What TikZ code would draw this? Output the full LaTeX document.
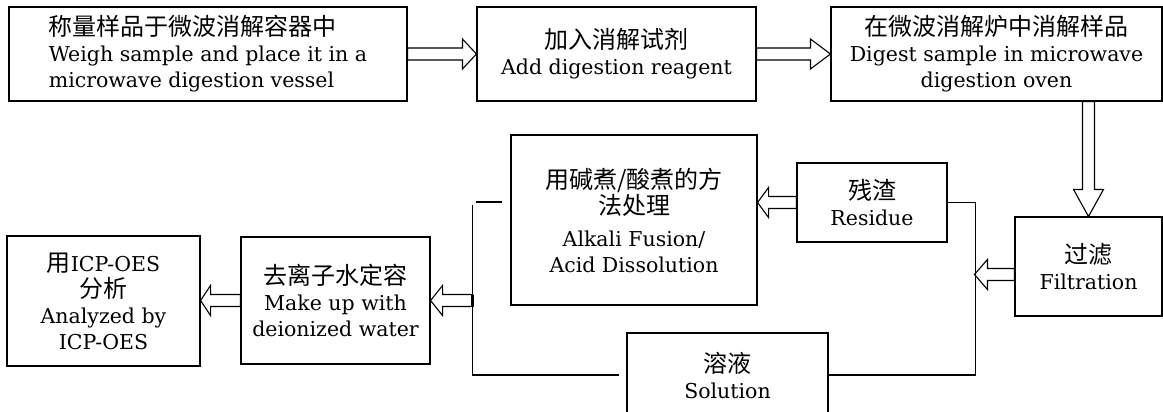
\documentclass[tikz,border=0pt]{standalone}
\usepackage{fontspec}
\setmainfont{DejaVu Serif}
\newfontfamily\cjk{Noto Sans CJK SC}
\usetikzlibrary{calc}
\newcommand{\zhtext}[1]{{\cjk\fontsize{24}{26}\selectfont #1}}
\newcommand{\fatarrow}[3][14pt]{%
  \coordinate (fah) at ($(#3)!#1!(#2)$);
  \draw[fatline] ($(#2)!6pt!90:(#3)$) -- ($(fah)!6pt!90:(#3)$) -- ($(fah)!15pt!90:(#3)$) -- (#3) -- ($(fah)!15pt!-90:(#3)$) -- ($(fah)!6pt!-90:(#3)$) -- ($(#2)!6pt!-90:(#3)$) -- cycle;}

\begin{document}
\begin{tikzpicture}[x=1pt, y=-1pt, line width=1.1pt,
                    box/.style={draw, align=center, inner sep=2pt, font=\fontsize{20.5}{26}\selectfont},
                    fatline/.style={line width=1.1pt, line join=miter}]
                        \useasboundingbox (0,0) rectangle (1163,412);
                        \node[box, align=left, minimum width=398pt, minimum height=94pt] (weigh) at (208,54) {\zhtext{称量样品于微波消解容器中}\\Weigh sample and place it in a\\microwave digestion vessel};
                        \node[box, minimum width=279pt, minimum height=94pt] (reagent) at (616.5,54) {\zhtext{加入消解试剂}\\Add digestion reagent};
                        \node[box, minimum width=331pt, minimum height=94pt] (digest) at (996.5,54) {\zhtext{在微波消解炉中消解样品}\\Digest sample in microwave\\digestion oven};
                        \node[box, minimum width=147pt, minimum height=99pt] (filter) at (1088.5,266.5) {\zhtext{过滤}\\Filtration};
                        \node[box, minimum width=150pt, minimum height=79pt] (residue) at (872,202.5) {\zhtext{残渣}\\Residue};
                        \node[box, minimum width=246pt, minimum height=170pt] (alkali) at (634,220) {\zhtext{用碱煮/酸煮的方}\\\zhtext{法处理}\\[6pt]Alkali Fusion/\\Acid Dissolution};
                        \node[box, minimum width=201pt, minimum height=84pt] (solution) at (727.5,375) {\zhtext{溶液}\\Solution};
                        \node[box, minimum width=189pt, minimum height=127pt] (deion) at (335.5,300.5) {\zhtext{去离子水定容}\\Make up with\\deionized water};
                        \node[box, minimum width=193pt, minimum height=130pt] (icp) at (103.5,301) {\zhtext{用}ICP-OES\\\zhtext{分析}\\Analyzed by\\ICP-OES};
                        \coordinate (dout) at (digest.south -| filter.north);
                        \coordinate (fout) at ($(filter.west)+(0,8)$);
                        \coordinate (rjoin) at ($(fout)+(-40,0)$);
                        \coordinate (rin) at (alkali.east |- residue.west);
                        \coordinate (ljoin) at ($(deion.east)+(42,0)$);
                        \coordinate (iin) at (icp.east |- deion.west);
                        \coordinate (lstub) at ($(alkali.west)+(-34,-18)$);
                        \fatarrow{weigh.east}{reagent.west}
                        \fatarrow[20pt]{reagent.east}{digest.west}
                        \fatarrow[27pt]{dout}{filter.north}
                        \fatarrow[13pt]{fout}{rjoin}
                        \fatarrow[11pt]{residue.west}{rin}
                        \fatarrow[12pt]{ljoin}{deion.east}
                        \fatarrow[10pt]{deion.west}{iin}
                        \draw (residue.east) -- ++(28,0) |- (solution.east) (lstub) -- ++(26,0) ($(ljoin)+(0,-96)$) |- ($(solution.west)+(-7,0)$);
                        \draw[line width=2.5pt] ($(ljoin)+(0,-6)$) -- ($(ljoin)+(0,6)$);
                    \end{tikzpicture}
\end{document}
